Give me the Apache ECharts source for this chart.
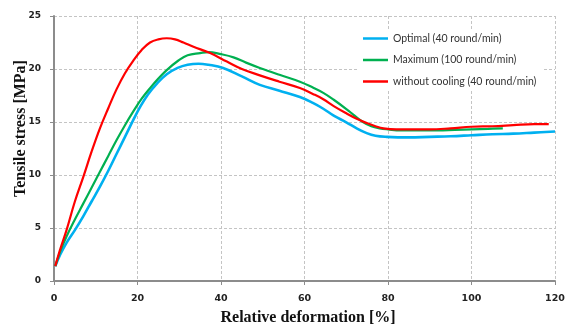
<!DOCTYPE html>
<html><head><meta charset="utf-8">
<script src="https://cdn.jsdelivr.net/npm/echarts@6/dist/echarts.min.js"></script>
<style>html,body{margin:0;padding:0;background:#fff}#c{width:568px;height:325px}</style>
</head><body><div id="c"></div>
<script>
const seriesNames = ['Optimal (40 round/min)', 'Maximum (100 round/min)', 'without cooling (40 round/min)'];
const xTicks = [0, 20, 40, 60, 80, 100, 120];
const yTicks = [0, 5, 10, 15, 20, 25];

const optimalX = [0.3, 1.5, 3, 5, 7, 9, 11, 13, 15, 17, 19, 20.6, 22.5, 24.6, 27, 29.6, 32, 34.6, 37, 40.5, 45, 49.3, 54, 58.9, 62, 64.5, 67, 70.1, 72.5, 74.9, 77, 79.7, 85, 90, 95, 100, 105, 110, 115, 120];
const optimalY = [1.4, 2.5, 3.6, 4.8, 6.1, 7.5, 8.9, 10.4, 12.0, 13.6, 15.2, 16.4, 17.6, 18.6, 19.5, 20.1, 20.4, 20.5, 20.4, 20.1, 19.3, 18.5, 17.95, 17.35, 16.8, 16.25, 15.6, 14.95, 14.4, 13.95, 13.7, 13.6, 13.55, 13.6, 13.65, 13.75, 13.85, 13.9, 14.0, 14.1];

const maximumX = [0.3, 1.5, 3, 5, 7, 9, 11, 13, 15, 17, 19, 21, 23, 25, 27, 29.8, 32, 35, 37, 40, 43, 46, 49.3, 54, 58.9, 62, 64.5, 67, 70.1, 72, 74, 76, 78, 80, 83, 87, 92, 96, 100, 104, 107.5];
const maximumY = [1.4, 2.8, 4.2, 5.8, 7.3, 8.8, 10.3, 11.8, 13.3, 14.7, 16.0, 17.2, 18.2, 19.1, 19.9, 20.8, 21.3, 21.5, 21.6, 21.4, 21.1, 20.6, 20.1, 19.45, 18.8, 18.25, 17.75, 17.1, 16.2, 15.6, 15.0, 14.6, 14.4, 14.3, 14.2, 14.2, 14.2, 14.25, 14.3, 14.35, 14.4];

const noCoolingX = [0.3, 1.5, 3, 5, 7, 9, 11, 13, 15, 17, 19, 21, 23, 25, 27, 29, 31, 33.4, 37.4, 41.4, 45, 49.3, 54, 58.9, 62, 64.5, 67, 70.1, 72.5, 74.9, 77, 78.9, 82, 86, 90, 95, 100, 105, 110, 115, 118.5];
const noCoolingY = [1.4, 3.0, 4.8, 7.5, 9.8, 12.2, 14.4, 16.3, 18.1, 19.6, 20.8, 21.8, 22.5, 22.8, 22.9, 22.8, 22.5, 22.1, 21.5, 20.7, 20.0, 19.4, 18.8, 18.2, 17.65, 17.15, 16.5, 15.8, 15.3, 14.9, 14.6, 14.4, 14.3, 14.3, 14.3, 14.4, 14.55, 14.6, 14.7, 14.8, 14.8];

const colors = ['#00B0F0', '#00B050', '#FF0000'];
const widths = [2.6, 2.2, 2.2];
const xs = [optimalX, maximumX, noCoolingX];
const ys = [optimalY, maximumY, noCoolingY];

const chart = echarts.init(document.getElementById('c'), null, {renderer: 'canvas'});
const labelStyle = {fontFamily: 'DejaVu Sans', fontWeight: 'bold', color: '#222'};
const splitStyle = {show: true, lineStyle: {color: '#c4c4c4', type: [3, 2], width: 1}};
chart.setOption({
  animation: false,
  color: colors,
  grid: {left: 54, right: 13, top: 16, bottom: 44, containLabel: false, outerBoundsMode: 'none'},
  legend: {
    orient: 'vertical', left: 357, top: 29,
    icon: 'rect', itemWidth: 25, itemHeight: 2.5, itemGap: 10.5,
    backgroundColor: '#fff', padding: [4, 6, 4, 6],
    textStyle: {fontFamily: 'Lato', fontSize: 10.5, color: '#333'},
    data: seriesNames
  },
  xAxis: {
    type: 'value', min: xTicks[0], max: xTicks[xTicks.length - 1], interval: 20,
    name: 'Relative deformation [%]', nameLocation: 'middle', nameGap: 29,
    nameTextStyle: {fontFamily: 'Liberation Serif', fontWeight: 'bold', fontSize: 16, color: '#111', padding: [0, 0, 0, 7]},
    axisLine: {show: true, lineStyle: {color: '#8c8c8c', width: 2}},
    axisTick: {show: true, length: 4, lineStyle: {color: '#8c8c8c', width: 1}},
    axisLabel: Object.assign({margin: 13, fontSize: 9.5}, labelStyle),
    splitLine: splitStyle
  },
  yAxis: {
    type: 'value', min: yTicks[0], max: yTicks[yTicks.length - 1], interval: 5,
    name: 'Tensile stress [MPa]', nameLocation: 'middle', nameGap: 25, nameRotate: 90, nameMoveOverlap: false,
    nameTextStyle: {fontFamily: 'Liberation Serif', fontWeight: 'bold', fontSize: 16, color: '#111', padding: [0, 0, 0, 40]},
    axisLine: {show: true, lineStyle: {color: '#8c8c8c', width: 2}},
    axisTick: {show: true, length: 4, lineStyle: {color: '#8c8c8c', width: 1}},
    axisLabel: Object.assign({margin: 13, fontSize: 9}, labelStyle),
    splitLine: splitStyle
  },
  series: seriesNames.map((n, i) => ({
    name: n, type: 'line', symbol: 'none', smooth: 0.4,
    lineStyle: {width: widths[i], color: colors[i]},
    data: xs[i].map((x, j) => [x, ys[i][j]])
  }))
});
</script></body></html>
